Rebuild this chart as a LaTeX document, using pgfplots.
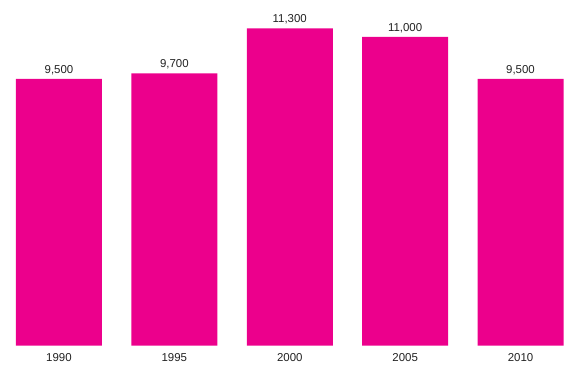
\documentclass[border=0pt]{standalone}
\usepackage{pgfplots}
\pgfplotsset{compat=1.18}
\usepackage{fontspec}
\setmainfont{Liberation Sans}
\definecolor{barpink}{HTML}{EC008C}
\definecolor{txt}{HTML}{222222}
\begin{document}
\begin{tikzpicture}
\path[use as bounding box] (0,0) rectangle (582bp,377bp);
\begin{axis}[
  at={(1.3bp,31.3bp)}, anchor=south west,
  scale only axis, width=576.9bp, height=336.9bp,
  xmin=-0.5, xmax=4.5, ymin=0, ymax=12000,
  axis line style={draw=none}, tick style={draw=none},
  ytick=\empty,
  xtick=data, xticklabels={1990,1995,2000,2005,2010},
  x tick label style={font=\fontsize{11.5}{13}\selectfont, text=txt, yshift=0bp},
  ybar, bar width=86bp,
  nodes near coords,
  every node near coord/.append style={font=\fontsize{11.5}{13}\selectfont, text=txt, yshift=0.5bp,
    /pgf/number format/.cd, fixed, 1000 sep={,}},
  /pgf/number format/assume math mode=true,
  clip=false,
]
\addplot[fill=barpink, draw=none] coordinates {(0,9500) (1,9700) (2,11300) (3,11000) (4,9500)};
\end{axis}
\end{tikzpicture}
\end{document}
